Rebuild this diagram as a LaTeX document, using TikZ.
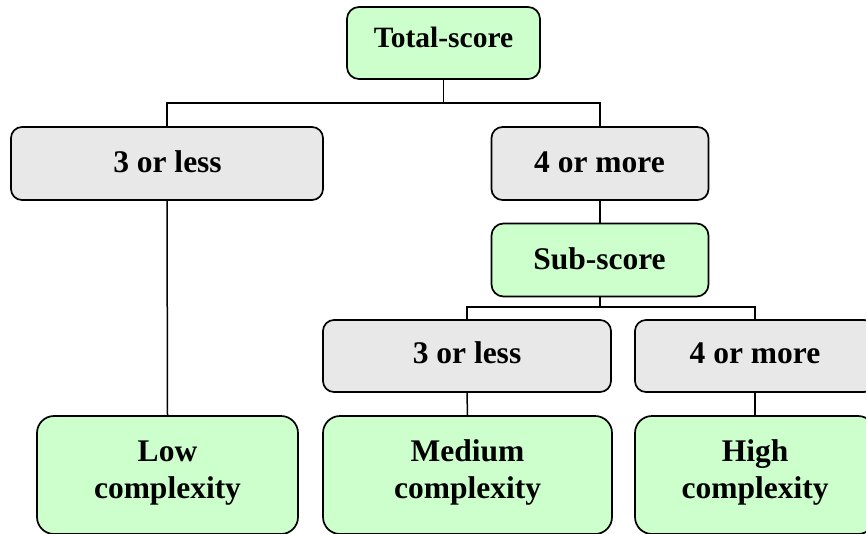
\documentclass[tikz,border=0pt]{standalone}
\usepackage{fontspec}
\setmainfont{Liberation Serif}
\definecolor{boxgreen}{HTML}{CCFFCC}
\definecolor{boxgrey}{HTML}{E8E8E8}
\begin{document}
\begin{tikzpicture}[x=1pt,y=-1pt,
  box/.style={draw=black, line width=1.7pt, inner sep=0pt, rectangle},
  greenbox/.style={box, fill=boxgreen, rounded corners=12pt},
  greybox/.style={box, fill=boxgrey, rounded corners=11pt},
  leafbox/.style={box, fill=boxgreen, rounded corners=17pt},
  conn/.style={line width=1.5pt, black},
  lbl/.style={anchor=base, inner sep=0pt, font=\bfseries\fontsize{31.5}{37}\selectfont, align=center},
  tlbl/.style={lbl, font=\bfseries\fontsize{29.5}{35}\selectfont}]
\useasboundingbox (0,0) rectangle (866,533);
\begin{scope}
\clip (0,0) rectangle (866,533);
% boxes
\node[greenbox, minimum width=193pt, minimum height=72pt] (total) at (443.5,43) {};
\node[greybox, minimum width=312pt, minimum height=73pt] (lessA) at (167,163.5) {};
\node[greybox, minimum width=217pt, minimum height=73pt] (moreA) at (600,163.5) {};
\node[greenbox, minimum width=217pt, minimum height=73pt] (sub) at (600,260) {};
\node[greybox, minimum width=288pt, minimum height=72pt] (lessB) at (467,356) {};
\node[greybox, minimum width=240pt, minimum height=72pt] (moreB) at (755,356) {};
\node[leafbox, minimum width=261pt, minimum height=118pt] (low) at (167.5,475) {};
\node[leafbox, minimum width=289pt, minimum height=118pt] (med) at (467.5,475) {};
\node[leafbox, minimum width=240pt, minimum height=118pt] (high) at (755,475) {};
% connectors
\coordinate (j1) at (443.5,103);
\coordinate (j2) at (600,307);
\draw[conn] (total.south) -- (j1);
\draw[conn] (j1) -| (lessA.north);
\draw[conn] (j1) -| (moreA.north);
\draw[conn] (moreA.south) -- (sub.north);
\draw[conn] (sub.south) -- (j2);
\draw[conn] (j2) -| (lessB.north);
\draw[conn] (j2) -| (moreB.north);
\draw[conn] (lessA.south) -- (low.north);
\draw[conn] (lessB.south) -- (med.north);
\draw[conn] (moreB.south) -- (high.north);
\end{scope}
% labels
\node[tlbl] (tTotal) at (443.5,47) {Total-score};
\node[lbl] (tLessA) at (167.5,172) {3 or less};
\node[lbl] (tMoreA) at (599.5,172) {4 or more};
\node[lbl] (tSub) at (599.5,269) {Sub-score};
\node[lbl] (tLessB) at (467,363) {3 or less};
\node[lbl] (tMoreB) at (755,363) {4 or more};
\node[lbl] (tLow) at (167.5,498) {Low\\complexity};
\node[lbl] (tMed) at (467.5,498) {Medium\\complexity};
\node[lbl] (tHigh) at (755,498) {High\\complexity};
\end{tikzpicture}
\end{document}
